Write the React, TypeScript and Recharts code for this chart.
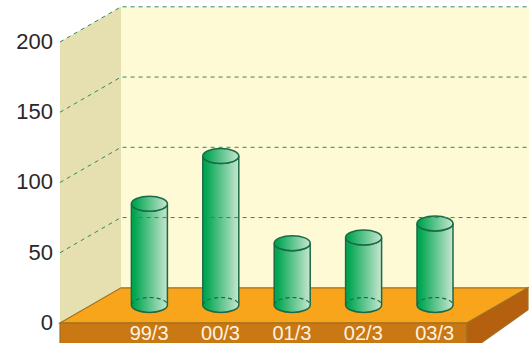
import React from 'react';
import { BarChart, Bar, XAxis, YAxis, ReferenceLine, Customized, usePlotArea } from 'recharts';

const categories = ['99/3', '00/3', '01/3', '02/3', '03/3'];
const values = [72, 106, 44, 48, 58];
const yTicks = [0, 50, 100, 150, 200];
const gridValues = [50, 100, 150, 200];
const data = categories.map((name, i) => ({ name, value: values[i] }));

const DX = 61;
const DY = 35.2;
const BAR_LIFT = 18;
const RY = 7.5;
const RIGHT = 540;

function Walls() {
  const p = usePlotArea();
  if (!p) return null;
  const L = p.x;
  const T = p.y;
  const B = p.y + p.height;
  const R = 467;
  return (
    <g>
      <rect x={L + DX} y={T - DY} width={RIGHT - L - DX} height={p.height} fill="#fffad6" />
      <polygon points={`${L},${T} ${L + DX},${T - DY} ${L + DX},${B - DY} ${L},${B}`} fill="#e6e0b0" />
      <polygon points={`${L},${B} ${L + DX},${B - DY} ${R + DX},${B - DY} ${R},${B}`} fill="#f8a51b" stroke="#a0711e" strokeWidth={1.2} />
      <rect x={L} y={B} width={R - L} height={30} fill="#c97814" stroke="#a0711e" strokeWidth={1.2} />
      <polygon points={`${R},${B} ${R + DX},${B - DY} ${R + DX},${B - DY + 22} ${R},${B + 30}`} fill="#b5600f" stroke="#a0711e" strokeWidth={1.2} />
    </g>
  );
}

function GridLine(props: any) {
  const { x1, y1 } = props;
  const x = Math.min(x1, props.x2);
  return (
    <polyline
      points={`${x},${y1} ${x + DX},${y1 - DY} ${RIGHT},${y1 - DY}`}
      fill="none"
      stroke="#2a8a60"
      strokeWidth={1}
      strokeDasharray="4 4"
    />
  );
}

function Cylinder(props: any) {
  const { x, y, width, height } = props;
  const cx = x + width / 2;
  const rx = width / 2;
  const top = y - BAR_LIFT;
  const bot = y + height - BAR_LIFT;
  const body = `M${x},${top} L${x},${bot} A${rx},${RY} 0 0 0 ${x + width},${bot} L${x + width},${top} A${rx},${RY} 0 0 1 ${x},${top} Z`;
  return (
    <g>
      <path d={body} fill="url(#cyl)" stroke="#1a6a45" strokeWidth={1.5} />
      <path d={`M${x},${bot} A${rx},${RY} 0 0 1 ${x + width},${bot}`} fill="none" stroke="#1a6a45" strokeWidth={1.2} strokeDasharray="4 3" />
      <ellipse cx={cx} cy={top} rx={rx} ry={RY} fill="url(#cyl)" stroke="#1a6a45" strokeWidth={1.5} />
    </g>
  );
}

export default function App() {
  return (
    <div style={{ position: 'absolute', left: 0, top: 0, width: 529, height: 343, overflow: 'hidden' }}>
      <BarChart
        width={529}
        height={343}
        data={data}
        margin={{ top: 42, right: 58.6, bottom: 0, left: 0 }}
        barCategoryGap={0}
      >
        <defs>
          <linearGradient id="cyl" x1="0" y1="0" x2="1" y2="0">
            <stop offset="0.08" stopColor="#00a651" />
            <stop offset="1" stopColor="#c8e6d0" />
          </linearGradient>
        </defs>
        <Customized component={Walls} />
        {gridValues.map((v) => (
          <ReferenceLine key={v} y={v} shape={<GridLine />} ifOverflow="visible" />
        ))}
        <XAxis
          dataKey="name"
          padding={{ left: 53.4, right: 0 }}
          height={20}
          axisLine={false}
          tickLine={false}
          interval={0}
          tick={{ fill: '#fdf3e0', fontSize: 20, fontFamily: 'Liberation Sans', dy: -3 }}
          tickMargin={0}
        />
        <YAxis
          domain={[0, 200]}
          ticks={yTicks}
          width={60}
          axisLine={false}
          tickLine={false}
          tick={{ fill: '#2b2728', fontSize: 22, fontFamily: 'Liberation Sans', dy: -1 }}
          tickMargin={1}
        />
        <Bar dataKey="value" isAnimationActive={false} barSize={36} shape={<Cylinder />} />
      </BarChart>
    </div>
  );
}
